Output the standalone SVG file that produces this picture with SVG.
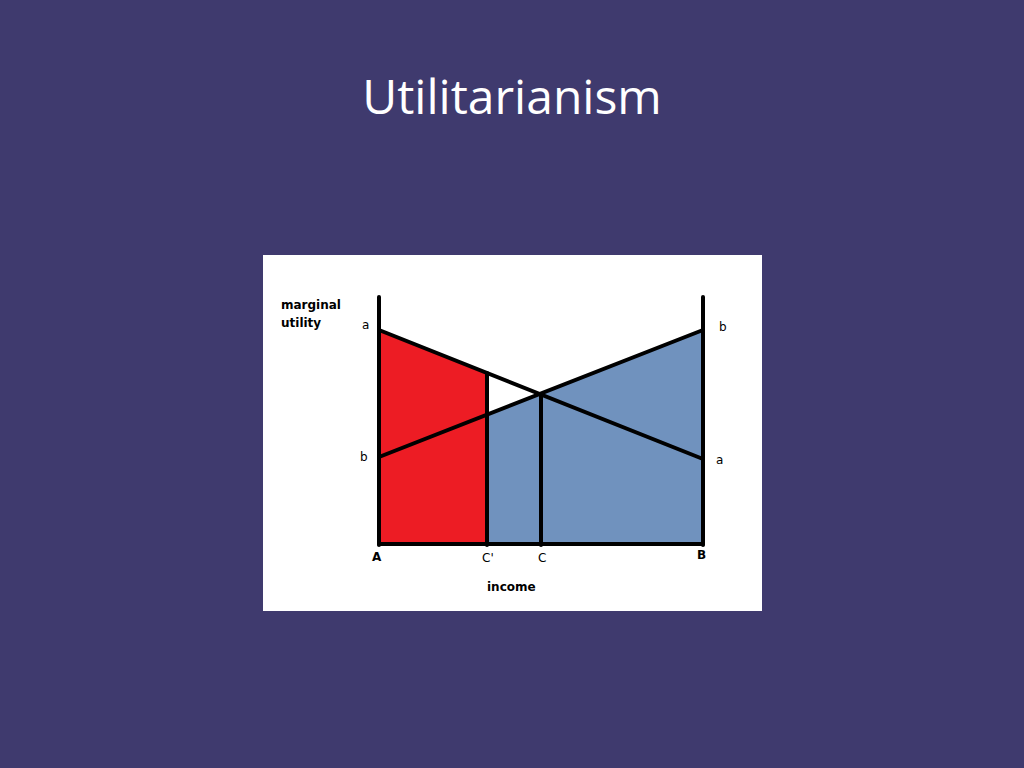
<svg xmlns="http://www.w3.org/2000/svg" width="1024" height="768" viewBox="0 0 1024 768">
<style>
.l{stroke:#000;stroke-width:4;fill:none;stroke-linecap:round}
.t{font-family:"DejaVu Sans",sans-serif;font-size:12px;fill:#000}
.b{font-weight:bold}
</style>
<rect width="1024" height="768" fill="#3F3A6E"/>
<text x="512" y="114" text-anchor="middle" font-family="Open Sans, Liberation Sans, sans-serif" font-size="48" fill="#fff">Utilitarianism</text>
<rect x="263" y="255" width="499" height="356" fill="#fff"/>
<g id="red"><polygon points="379,330 487,373 487,545 379,545" fill="#ED1C24"/></g>
<g id="blue"><polygon points="487,414 703,330 703,545 487,545" fill="#7092BE"/></g>
<g id="connectors">
<line class="l" x1="379" y1="330" x2="703" y2="459" stroke-width="3"/>
<line class="l" x1="379" y1="457" x2="703" y2="330" stroke-width="3"/>
<line class="l" x1="487" y1="373" x2="487" y2="545" stroke-width="3"/>
<line class="l" x1="541" y1="394" x2="541" y2="545" stroke-width="3"/>
<line class="l" x1="379" y1="297" x2="379" y2="545" stroke-width="5"/>
<line class="l" x1="703" y1="297" x2="703" y2="545" stroke-width="5"/>
<line class="l" x1="379" y1="544" x2="703" y2="544" stroke-width="5"/>
</g>
<text class="t b" x="281" y="309">marginal</text>
<text class="t b" x="281" y="327">utility</text>
<text class="t" x="362" y="329">a</text>
<text class="t" x="360" y="461">b</text>
<text class="t" x="719" y="331">b</text>
<text class="t" x="716" y="464">a</text>
<text class="t b" x="372" y="561">A</text>
<text class="t" x="482" y="562">C'</text>
<text class="t" x="538" y="562">C</text>
<text class="t b" x="697" y="559">B</text>
<text class="t b" x="487" y="591">income</text>
</svg>
